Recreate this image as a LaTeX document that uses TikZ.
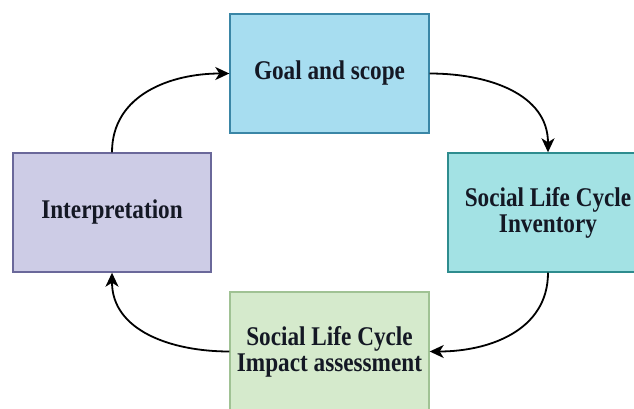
\documentclass[tikz,border=0pt]{standalone}
\usepackage{fontspec}
\setmainfont{Liberation Serif}
\newfontfamily\boxfont[FakeStretch=0.86]{Liberation Serif}
\usetikzlibrary{arrows.meta}
\definecolor{goalfill}{HTML}{A7DDF0}
\definecolor{goaldraw}{HTML}{3A86A6}
\definecolor{invfill}{HTML}{A3E2E4}
\definecolor{invdraw}{HTML}{2E8C8E}
\definecolor{intfill}{HTML}{CDCCE6}
\definecolor{intdraw}{HTML}{6A689A}
\definecolor{impfill}{HTML}{D5EACC}
\definecolor{impdraw}{HTML}{A0C294}
\definecolor{txt}{HTML}{141824}
\tikzset{
  stagebox/.style={rectangle, line width=1.4pt, minimum height=119pt, inner sep=0pt,
    align=center, text=txt, font=\boxfont\fontsize{27}{26}\selectfont\bfseries},
  flow/.style={line width=1.8pt, -{Stealth[length=14pt,width=13pt,inset=4pt]}, looseness=1.05}
}
\begin{document}
\begin{tikzpicture}[x=1pt,y=1pt]
\useasboundingbox (0,0) rectangle (634,408);
\clip (0,0) rectangle (634,408);
\node[stagebox, fill=goalfill, draw=goaldraw, minimum width=199pt] (goal) at (329.5,334.5) {Goal and scope};
\node[stagebox, fill=intfill, draw=intdraw, minimum width=198pt] (interp) at (112,195.5) {Interpretation};
\node[stagebox, fill=invfill, draw=invdraw, minimum width=200pt] (inv) at (548,195.5) {Social Life Cycle\\Inventory};
\node[stagebox, fill=impfill, draw=impdraw, minimum width=199pt] (imp) at (329.5,56.5) {Social Life Cycle\\Impact assessment};
\draw[flow] (interp.north) to[out=90,in=180] (goal.west);
\draw[flow] (goal.east) to[out=0,in=90] (inv.north);
\draw[flow] (inv.south) to[out=270,in=0] (imp.east);
\draw[flow] (imp.west) to[out=180,in=270] (interp.south);
\end{tikzpicture}
\end{document}
